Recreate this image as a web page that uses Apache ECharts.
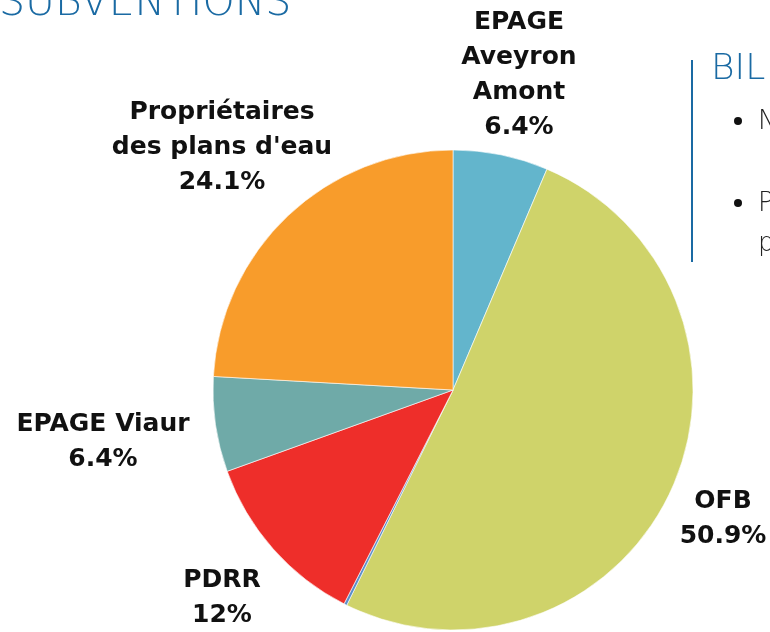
<!DOCTYPE html>
<html>
<head>
<meta charset="utf-8">
<script src="https://cdn.jsdelivr.net/npm/echarts@6/dist/echarts.min.js"></script>
<style>html,body{margin:0;padding:0;background:#fff;}#c{width:770px;height:632px;}</style>
</head>
<body>
<div id="c"></div>
<script>
var categories = ['EPAGE\nAveyron\nAmont', 'OFB', 'Autre', 'PDRR', 'EPAGE Viaur', 'Propriétaires\ndes plans d\'eau'];
var values = [6.4, 50.9, 0.2, 12, 6.4, 24.1];
var colors = ['#63b5cc', '#cfd36a', '#5b8fc9', '#ee2e2a', '#6faaa8', '#f89c2b'];
var showLabel = [true, true, false, true, true, true];
var labelPos = [[519, 75], [723, 519], [0, 0], [222, 598], [103, 442], [222, 147]];

var chart = echarts.init(document.getElementById('c'), null, {renderer: 'canvas'});
var data = categories.map(function (n, i) {
  return {
    name: n, value: values[i],
    itemStyle: {color: colors[i]},
    label: {show: showLabel[i]}
  };
});
chart.setOption({
  animation: false,
  series: [{
    type: 'pie',
    center: [453, 390],
    radius: 240,
    startAngle: 90,
    clockwise: true,
    avoidLabelOverlap: false,
    itemStyle: {borderColor: '#ffffff', borderWidth: 0.6},
    label: {
      position: 'outside',
      formatter: function (p) { return p.name + '\n' + p.value + '%'; },
      fontFamily: 'DejaVu Sans',
      fontWeight: 'bold',
      fontSize: 25,
      lineHeight: 35,
      color: '#111111',
      align: 'center'
    },
    labelLine: {show: false},
    labelLayout: function (p) {
      var pos = labelPos[p.dataIndex];
      return {x: pos[0], y: pos[1], align: 'center', verticalAlign: 'middle'};
    },
    data: data
  }],
  graphic: [
    {type: 'text', x: -1, y: 4, style: {text: 'SUBVENTIONS', font: '300 41px "DejaVu Sans"', fill: '#1a6aa3', textVerticalAlign: 'middle'}},
    {type: 'line', shape: {x1: 692, y1: 60, x2: 692, y2: 262}, style: {stroke: '#1a6aa3', lineWidth: 2}},
    {type: 'text', x: 711, y: 70, style: {text: 'BIL', font: '300 36px "DejaVu Sans"', fill: '#1a6aa3', textVerticalAlign: 'middle'}},
    {type: 'circle', shape: {cx: 738, cy: 121, r: 4}, style: {fill: '#111'}},
    {type: 'circle', shape: {cx: 738, cy: 203, r: 4}, style: {fill: '#111'}},
    {type: 'text', x: 758, y: 122, style: {text: 'N', font: '300 26px "DejaVu Sans"', fill: '#222', textVerticalAlign: 'middle'}},
    {type: 'text', x: 758, y: 204, style: {text: 'P', font: '300 26px "DejaVu Sans"', fill: '#222', textVerticalAlign: 'middle'}},
    {type: 'text', x: 758, y: 244, style: {text: 'p', font: '300 26px "DejaVu Sans"', fill: '#222', textVerticalAlign: 'middle'}}
  ]
});
</script>
</body>
</html>
